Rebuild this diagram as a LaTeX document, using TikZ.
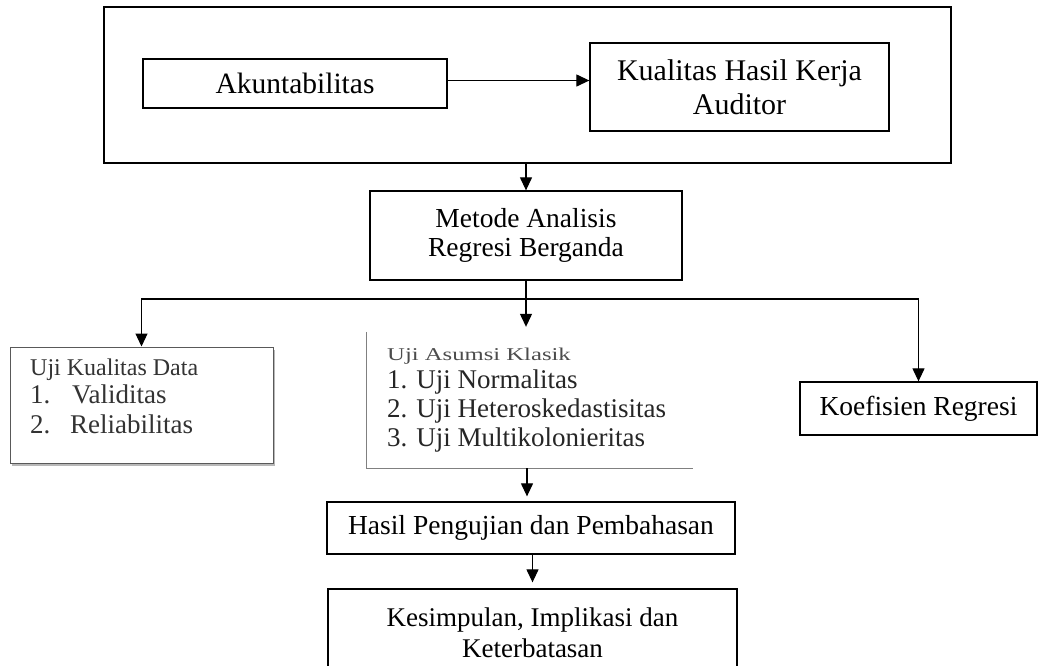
\documentclass[tikz,border=0pt]{standalone}
\usepackage{fontspec}
\setmainfont{Liberation Serif}
\usetikzlibrary{arrows.meta,shadows}
\newcommand\myfs[2]{\fontsize{#1}{#2}\selectfont}
\begin{document}
\begin{tikzpicture}[x=1pt,y=-1pt,
  box/.style={draw, line width=1.3pt, align=center, inner sep=0pt,
    font=\myfs{27.5}{29}},
  arr/.style={line width=1.2pt, -{Triangle[length=13pt,width=12pt]}},
  ln/.style={line width=1.2pt},
  txt/.style={anchor=base west, inner sep=0pt, font=\myfs{27}{29}}]
\useasboundingbox (0,0) rectangle (1041,665);
\fill[white] (0,0) rectangle (1041,665);
% top group
\node[box, minimum width=847, minimum height=156] (outer) at (527.5,85) {};
\node[box, minimum width=304, minimum height=49, font=\myfs{29.5}{34}] (ak) at (295,83.5) {Akuntabilitas};
\node[box, minimum width=299, minimum height=88, font=\myfs{30}{34}] (kh) at (739.5,87) {Kualitas Hasil Kerja\\Auditor};
\draw[arr] ([yshift=3pt]ak.east) -- ([yshift=3pt]ak.east -| kh.west);
% method
\node[box, minimum width=312, minimum height=89] (me) at (526,235.5) {Metode Analisis\\Regresi Berganda};
\draw[arr] (outer.south -| me.north) -- (me.north);
% branches
\node[draw=black!65, fill=white, line width=1pt, minimum width=263, minimum height=116, inner sep=0pt,
  drop shadow={shadow xshift=1.5pt, shadow yshift=-2.5pt, fill=black!55}]
  (uk) at (141.5,405) {};
\begin{scope}[text=black!80]
\node[txt, font=\myfs{24}{28}] (uk0) at (30,375) {Uji Kualitas Data};
\node[txt] (uk1) at (30,403) {1.};
\node[txt] (uk1t) at (72,403) {Validitas};
\node[txt] (uk2) at (30,433) {2.};
\node[txt] (uk2t) at (70,433) {Reliabilitas};
\end{scope}
\node[minimum width=326, minimum height=136, inner sep=0pt] (ua) at (530,400) {};
\draw[line width=0.9pt, black!50] (ua.north west) -- (ua.south west) -- (ua.south east);
\begin{scope}[text=black!85]
\node[txt, font=\myfs{18}{20}, text=black!70] (ua0) at (387,360) {\scalebox{1.37}[1]{Uji Asumsi Klasik}};
\node[txt] (ua1) at (387,388) {1. Uji Normalitas};
\node[txt] (ua2) at (387,417) {2. Uji Heteroskedastisitas};
\node[txt] (ua3) at (387,446) {3. Uji Multikolonieritas};
\end{scope}
\node[box, minimum width=237, minimum height=53] (ko) at (918.5,408.5) {Koefisien Regresi};
\coordinate (j) at (me.south |- 0,299);
\draw[ln] (me.south) -- (j);
\draw[arr] (j) -| (uk.north);
\draw[arr, shorten >=5pt] (j) -- (j |- ua.north);
\draw[arr] (j) -| (ko.north);
% results
\node[box, minimum width=408, minimum height=52] (ha) at (531,528) {Hasil Pengujian dan Pembahasan};
\draw[arr, shorten >=5pt] ([xshift=1pt]j |- ua.south) -- ([xshift=1pt]j |- ha.north);
\node[box, minimum width=409, minimum height=88, font=\myfs{27}{31}] (ke) at (532.5,633) {Kesimpulan, Implikasi dan\\Keterbatasan};
\draw[arr, shorten >=6pt] (ha.south -| ke.north) -- (ke.north);
\end{tikzpicture}
\end{document}
